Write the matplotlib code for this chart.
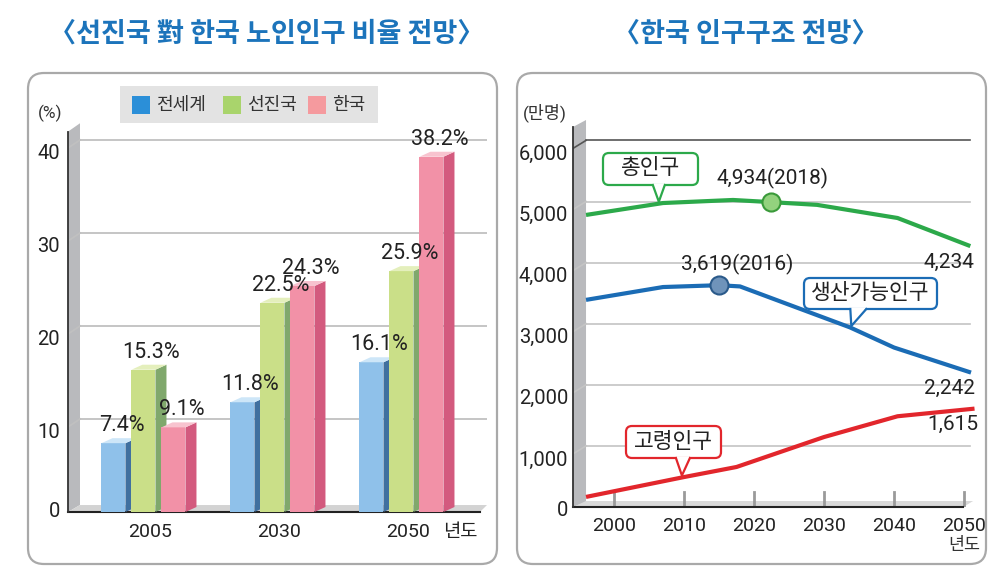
import numpy as np
import matplotlib
matplotlib.use('Agg')
import matplotlib.pyplot as plt
from matplotlib.patches import FancyBboxPatch, Polygon, Rectangle
from matplotlib.transforms import Affine2D
from matplotlib.lines import Line2D

plt.rcParams['font.family'] = ['Roboto', 'Noto Sans CJK KR', 'DejaVu Sans']

# left chart: elderly share (%)
bar_years = ['2005', '2030', '2050']
bar_series = ['전세계', '선진국', '한국']
world = [7.4, 11.8, 16.1]
developed = [15.3, 22.5, 25.9]
korea = [9.1, 24.3, 38.2]
pct_ticks = [0, 10, 20, 30, 40]

# right chart: population (10k persons)
total_years = [1996, 2007, 2017, 2022.4, 2029, 2040.5, 2050.9]
total_pop = [4780, 4975, 5025, 4990, 4945, 4730, 4270]
work_years = [1996, 2007, 2015, 2018, 2033.7, 2040, 2051]
work_pop = [3390, 3600, 3630, 3610, 2940, 2610, 2200]
old_years = [1996, 2010, 2017.5, 2030, 2040.5, 2051.5]
old_pop = [165, 490, 655, 1145, 1485, 1610]
pop_ticks = [0, 1000, 2000, 3000, 4000, 5000, 6000]
decades = [2000, 2010, 2020, 2030, 2040, 2050]
peak_labels = ['4,934(2018)', '3,619(2016)']
end_labels = ['4,234', '2,242', '1,615']
callout_names = ['총인구', '생산가능인구', '고령인구']

W, H = 1004, 580
fig = plt.figure(figsize=(W / 100, H / 100), dpi=100)
px = Affine2D().scale(1, -1).translate(0, H)   # pixel coords, origin top-left

# panel frames + titles
for x0, x1 in [(28, 497), (517, 986)]:
    fig.add_artist(FancyBboxPatch((x0, 73), x1 - x0, 491, boxstyle='round,pad=0,rounding_size=16',
                                  transform=px, fc='white', ec='#a9a9a9', lw=1.6, zorder=-5))
fig.text(267, 34, '〈선진국 對 한국 노인인구 비율 전망〉', transform=px, ha='center', va='center',
         fontsize=19.5, color='#1c74bb', family=['Noto Sans CJK KR'], weight='bold')
fig.text(746, 34, '〈한국 인구구조 전망〉', transform=px, ha='center', va='center',
         fontsize=19.5, color='#1c74bb', family=['Noto Sans CJK KR'], weight='bold')

# ---------------- left chart ----------------
ax1 = fig.add_axes([68 / W, 1 - 512 / H, (487 - 68) / W, (512 - 123) / H])
ax1.set_xlim(-0.585, 2.663)
ax1.set_ylim(0, 389 / 9.3)
ax1.axis('off')

xl, xw = -0.585, -0.492
ax1.add_patch(Polygon([(xl, 0), (xl, 40.9), (xw, 41.8), (xw, 0.75)], fc='#b9babd', ec='none', zorder=1))
ax1.add_patch(Polygon([(xl, 0), (xw, 0.75), (2.663, 0.75), (2.608, 0)], fc='#d3d3d3', ec='none', zorder=1))
for v in pct_ticks[1:]:
    ax1.plot([xw, 2.663], [v, v], color='#c0c0c0', lw=1.3, zorder=1)
    ax1.plot([xl, xw], [v - 0.86, v], color='#c0c0c0', lw=1.3, zorder=1)
ax1.plot([xl, 2.608], [0, 0], color='#222222', lw=1.5, zorder=2, clip_on=False)
ax1.plot([xl, xl], [0, 40.9], color='#333333', lw=1.3, zorder=2, clip_on=False)
for v in pct_ticks:
    ax1.text(-0.647, v - 1.4 if v else 0.1, str(v), ha='right', va='center', fontsize=14.5, color='#222')
for i, y in enumerate(bar_years):
    ax1.text(i + 0.05, -2.15, y, ha='center', va='center', fontsize=14, color='#222')
ax1.text(2.453, -2.15, '년도', ha='center', va='center', fontsize=13.5, color='#222')
fig.text(50, 113, '(%)', transform=px, ha='center', va='center', fontsize=12.5, color='#333')

bar_colors = [('#8fc1ea', '#40709f', '#cde6f8'),
              ('#cadf88', '#80a86c', '#e4efbc'),
              ('#f291a7', '#d35a7e', '#f8c3cf')]
values = [world, developed, korea]
w, step, dx, dy = 24 / 129, 30 / 129, 11 / 129, 5 / 9.3
for i in range(len(bar_years)):
    for j, vals in enumerate(values):
        xc = i + (j - 1) * step
        h = vals[i]
        front, side, top = bar_colors[j]
        z = 3 + j
        ax1.bar(xc, h, width=w, color=front, zorder=z)
        a, b = xc - w / 2, xc + w / 2
        ax1.add_patch(Polygon([(b, 0), (b, h), (b + dx, h + dy), (b + dx, dy)], fc=side, ec='none', zorder=z))
        ax1.add_patch(Polygon([(a, h), (b, h), (b + dx, h + dy), (a + dx, h + dy)], fc=top, ec='none', zorder=z))
        ax1.annotate(f'{h}%', (xc, h + dy), xytext=(8, 2), textcoords='offset pixels',
                     ha='center', va='bottom', fontsize=15.5, color='#222', zorder=10)

# legend
leg_colors = ['#2b8fd8', '#a9d46c', '#f59a9e']
fig.add_artist(Rectangle((120, 86), 258, 37, transform=px, fc='#e3e3e3', ec='none', zorder=1))
for name, c, sx in zip(bar_series, leg_colors, [132, 223, 308]):
    fig.add_artist(Rectangle((sx, 96), 18, 18, transform=px, fc=c, ec='none', zorder=2))
    fig.text(sx + 24, 105, name, transform=px, ha='left', va='center', fontsize=13, color='#333', zorder=3)

# ---------------- right chart ----------------
ax2 = fig.add_axes([573 / W, 1 - 507 / H, (975 - 573) / W, (507 - 120) / H])
x0r = 1994.14
ax2.set_xlim(x0r, x0r + 402 / 7.0)
ax2.set_ylim(0, 387 / 0.0611)
ax2.axis('off')

xwr = 1996.0
ax2.add_patch(Polygon([(x0r, 0), (x0r, 6219), (xwr, 6334), (xwr, 82)], fc='#b9babd', ec='none', zorder=1))
ax2.add_patch(Polygon([(x0r, 0), (xwr, 98), (2051.3, 98), (2049.9, 0)], fc='#d9d9d9', ec='none', zorder=1))
for v in pop_ticks[1:]:
    gc = '#555555' if v == pop_ticks[-1] else '#c4c4c4'
    ax2.plot([xwr, 2050.9], [v, v], color=gc, lw=1.2, zorder=1)
    ax2.plot([x0r, xwr], [v - 131, v], color=gc, lw=1.2, zorder=1)
for d in decades:
    ax2.plot([d, d], [0, 245], color='#9a9a9a', lw=2, zorder=1)
    ax2.text(d, -311, str(d), ha='center', va='center', fontsize=14, color='#222')
ax2.text(decades[-1], -622, '년도', ha='center', va='center', fontsize=12.5, color='#333')
ax2.plot([x0r, 2049.9], [0, 0], color='#222222', lw=1.5, zorder=2, clip_on=False)
ax2.plot([x0r, x0r], [0, 6219], color='#333333', lw=1.3, zorder=2, clip_on=False)
for v in pop_ticks:
    ax2.text(1993.43, v - 230 if v else -60, f'{v:,}', ha='right', va='center', fontsize=14.5, color='#222')
fig.text(545, 113, '(만명)', transform=px, ha='center', va='center', fontsize=12.5, color='#333')

line_colors = ['#2ca94a', '#1b6cb5', '#e2262c']
series = [(total_years, total_pop), (work_years, work_pop), (old_years, old_pop)]
for (ys, vs), c, lab in zip(series, line_colors, end_labels):
    ax2.plot(ys, vs, color=c, lw=3, solid_capstyle='butt', zorder=4, clip_on=False)
    ax2.annotate(lab, (ys[-1], vs[-1]), xytext=(4, -16), textcoords='offset pixels',
                 ha='right', va='center', fontsize=15, color='#222')

# peak markers
ax2.plot(total_years[3], total_pop[3], 'o', ms=13, mfc='#93d27e', mec='#3a9a3a', mew=1.5, zorder=6)
ax2.plot(work_years[2], work_pop[2], 'o', ms=13, mfc='#6f93ba', mec='#2b5a8a', mew=1.5, zorder=6)
ax2.annotate(peak_labels[0], (total_years[3], total_pop[3]), xytext=(2, 24), textcoords='offset pixels',
             ha='center', va='center', fontsize=15, color='#222')
ax2.annotate(peak_labels[1], (work_years[2], work_pop[2]), xytext=(18, 21), textcoords='offset pixels',
             ha='center', va='center', fontsize=15, color='#222')


def callout(box, tip_year, ys, vs, base, color, text):
    bx, by, bw, bh = box
    tx, ty = ax2.transData.transform((tip_year, np.interp(tip_year, ys, vs)))
    ty = H - ty - 2
    fig.add_artist(FancyBboxPatch((bx, by), bw, bh, boxstyle='round,pad=0,rounding_size=6',
                                  transform=px, fc='white', ec=color, lw=1.6, zorder=5))
    yb = by + bh
    fig.add_artist(Polygon([(tx + base[0], yb - 1.5), (tx, ty), (tx + base[1], yb - 1.5)],
                           transform=px, fc='white', ec='none', zorder=6))
    fig.add_artist(Line2D([tx + base[0], tx, tx + base[1]], [yb, ty, yb], transform=px,
                          color=color, lw=1.6, zorder=7))
    fig.text(bx + bw / 2, by + bh / 2, text, transform=px, ha='center', va='center',
             fontsize=15.5, color='#222', zorder=8)


callout((603, 153, 95, 32), 2006.4, total_years, total_pop, (-6, 6), line_colors[0], callout_names[0])
callout((804, 278, 133, 31), 2033.9, work_years, work_pop, (-1, 15), line_colors[1], callout_names[1])
callout((626, 426, 95, 32), 2009.7, old_years, old_pop, (-6, 8), line_colors[2], callout_names[2])

fig.savefig('out.png', dpi=100)
